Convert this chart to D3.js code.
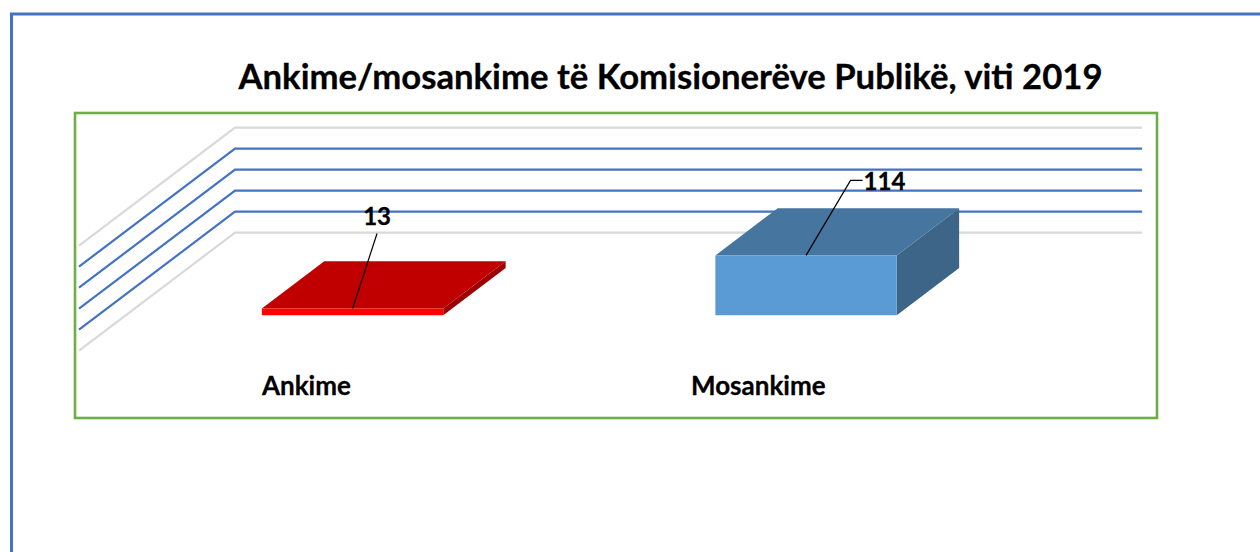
<!DOCTYPE html>
<html>
<head>
<meta charset="utf-8">
<script src="https://cdn.jsdelivr.net/npm/d3@7"></script>
<style>
    html, body { margin: 0; background: #fff; overflow: hidden; }
    text { font-family: Lato, "Open Sans", sans-serif; font-weight: 700; fill: #000; stroke: #000; stroke-width: 0.3px; }
</style>
</head>
<body>
<svg id="chart"></svg>
<script>
const chartTitle = "Ankime/mosankime të Komisionerëve Publikë, viti 2019";
const categories = ["Ankime", "Mosankime"];
const values = [13, 114];
const tickValues = [0, 40, 80, 120, 160, 200];

const dimensions = { width: 1260, height: 552 };

// front plane of the 3D box, the back wall is the same thing pushed by depth
const plot = { left: 79, right: 986, base: 350.7, top: 245.6 };
const depth = { x: 156, y: 118 };

const barColors = {
    Ankime: { front: "#ff0000", top: "#c00000", side: "#9c0000" },
    Mosankime: { front: "#5b9bd5", top: "#46759f", side: "#3c6587" }
};

const svg = d3.select("#chart")
    .attr("width", dimensions.width)
    .attr("height", dimensions.height);

const xScale = d3.scaleBand()
    .domain(categories)
    .range([plot.left, plot.right])
    .paddingInner(0.6)
    .paddingOuter(0.3);

const yScale = d3.scaleLinear()
    .domain([0, 200])
    .range([plot.base, plot.top]);

const zScale = d3.scaleLinear()
    .domain([0, 1])
    .range([0.3, 0.7]);

// x and y on the front plane, z from 0 (front) to 1 (back wall)
function project(x, y, z) {
    return [x + z * depth.x, y - z * depth.y];
}

const polygon = pts => "M" + pts.map(p => p.join(",")).join("L") + "Z";

// page outline, runs off the right and bottom of the picture
svg.append("path")
    .attr("d", `M11.5,${dimensions.height}V14H${dimensions.width}`)
    .attr("fill", "none")
    .attr("stroke", "#4472c4")
    .attr("stroke-width", 3);

// chart frame
svg.append("rect")
    .attr("x", 75)
    .attr("y", 113)
    .attr("width", 1082)
    .attr("height", 305)
    .attr("fill", "none")
    .attr("stroke", "#70ad47")
    .attr("stroke-width", 2.6);

svg.append("text")
    .attr("x", 670.5)
    .attr("y", 89)
    .attr("text-anchor", "middle")
    .style("font-size", "34.7px")
    .text(chartTitle);

// gridlines, floor side then along the back wall
svg.selectAll(".grid")
    .data(tickValues)
    .enter()
    .append("path")
    .attr("class", "grid")
    .attr("fill", "none")
    .attr("stroke-width", 2.2)
    .attr("stroke", d => (d === 0 || d === 200) ? "#d9d9d9" : "#4472c4")
    .attr("d", d => {
        const a = [plot.left, yScale(d)];
        const b = project(plot.left, yScale(d), 1);
        const c = project(plot.right, yScale(d), 1);
        return "M" + [a, b, c].map(p => p.join(",")).join("L");
    });

const bars = svg.selectAll(".bar")
    .data(categories.map((name, i) => ({ name: name, value: values[i] })))
    .enter()
    .append("g")
    .attr("class", "bar");

function barCorners(d) {
    const x0 = xScale(d.name);
    const x1 = x0 + xScale.bandwidth();
    const y0 = yScale(0);
    const y1 = yScale(d.value);
    const zf = zScale(0);
    const zb = zScale(1);
    return {
        fbl: project(x0, y0, zf), fbr: project(x1, y0, zf),
        ftl: project(x0, y1, zf), ftr: project(x1, y1, zf),
        bbr: project(x1, y0, zb),
        btl: project(x0, y1, zb), btr: project(x1, y1, zb)
    };
}

bars.append("path")
    .attr("fill", d => barColors[d.name].side)
    .attr("d", d => {
        const c = barCorners(d);
        return polygon([c.fbr, c.ftr, c.btr, c.bbr]);
    });

bars.append("path")
    .attr("fill", d => barColors[d.name].top)
    .attr("d", d => {
        const c = barCorners(d);
        return polygon([c.ftl, c.ftr, c.btr, c.btl]);
    });

bars.append("path")
    .attr("fill", d => barColors[d.name].front)
    .attr("d", d => {
        const c = barCorners(d);
        return polygon([c.fbl, c.fbr, c.ftr, c.ftl]);
    });

// leader lines start at the middle of the front top edge
const labelOffsets = {
    Ankime: { points: [[24.5, -75]], textX: 24.5, textY: -83, anchor: "middle" },
    Mosankime: { points: [[44.5, -75], [56.5, -75]], textX: 57.5, textY: -65, anchor: "start" }
};

bars.append("path")
    .attr("fill", "none")
    .attr("stroke", "#000")
    .attr("stroke-width", 1.2)
    .attr("d", d => {
        const c = barCorners(d);
        const sx = (c.ftl[0] + c.ftr[0]) / 2;
        const sy = c.ftl[1];
        const pts = [[sx, sy]].concat(labelOffsets[d.name].points.map(p => [sx + p[0], sy + p[1]]));
        return "M" + pts.map(p => p.join(",")).join("L");
    });

bars.append("text")
    .attr("x", d => {
        const c = barCorners(d);
        return (c.ftl[0] + c.ftr[0]) / 2 + labelOffsets[d.name].textX;
    })
    .attr("y", d => barCorners(d).ftl[1] + labelOffsets[d.name].textY)
    .attr("text-anchor", d => labelOffsets[d.name].anchor)
    .style("font-size", "24px")
    .text(d => d.value);

// category labels sit under the bars
const categoryX = { Ankime: 262, Mosankime: 691 };

svg.selectAll(".category")
    .data(categories)
    .enter()
    .append("text")
    .attr("class", "category")
    .attr("x", d => categoryX[d])
    .attr("y", 395)
    .style("font-size", "26px")
    .text(d => d);
</script>
</body>
</html>
